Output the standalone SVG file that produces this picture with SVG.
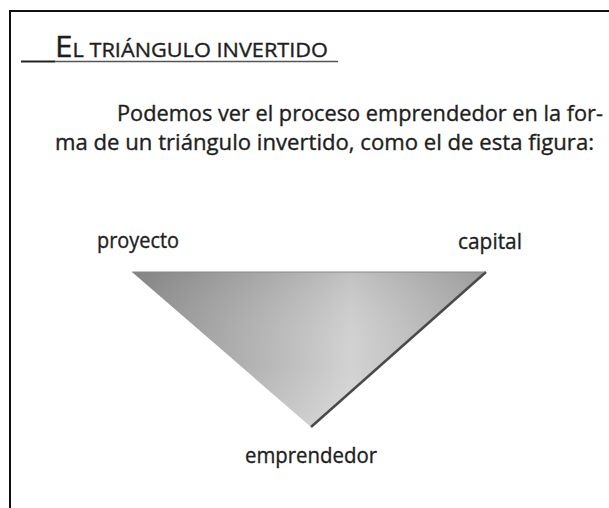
<svg xmlns="http://www.w3.org/2000/svg" width="609" height="508" viewBox="0 0 609 508">
<defs>
<style>
.t{font-family:"Open Sans","Noto Sans",sans-serif;fill:#1e1e1e;stroke:#1e1e1e;stroke-width:0.35}
.lbl{font-size:21px}
.par{font-size:21.5px}
.ttl{font-size:20px}
</style>
<linearGradient id="g" x1="0" y1="0" x2="1" y2="0">
<stop offset="0" stop-color="#8e8e8e"/>
<stop offset="0.5" stop-color="#c4c4c4"/>
<stop offset="0.62" stop-color="#d2d2d2"/>
<stop offset="1" stop-color="#a9a9a9"/>
</linearGradient>
<linearGradient id="gv" x1="0" y1="0" x2="0" y2="1">
<stop offset="0" stop-color="#000" stop-opacity="0.08"/>
<stop offset="0.6" stop-color="#fff" stop-opacity="0"/>
<stop offset="1" stop-color="#fff" stop-opacity="0.2"/>
</linearGradient>
</defs>
<rect width="609" height="508" fill="#fff"/>
<g id="frame" fill="none" stroke="#111" stroke-width="2">
<path d="M10 508 V11 H609"/>
</g>
<g id="title">
<text class="t" x="55" y="57" textLength="273" lengthAdjust="spacingAndGlyphs"><tspan font-size="29">E</tspan><tspan class="ttl">L TRIÁNGULO INVERTIDO</tspan></text>
<line x1="21" y1="61.5" x2="55" y2="61.5" stroke="#222" stroke-width="2"/>
<line x1="55" y1="61.5" x2="338" y2="61.5" stroke="#555" stroke-width="1.5"/>
</g>
<g id="paragraph">
<text class="t par" x="117" y="121" textLength="486" lengthAdjust="spacingAndGlyphs">Podemos ver el proceso emprendedor en la for-</text>
<text class="t par" x="55" y="150" textLength="539" lengthAdjust="spacingAndGlyphs">ma de un triángulo invertido, como el de esta figura:</text>
</g>
<g id="triangle">
<polygon points="132,272 485,272 311,427" fill="url(#g)"/>
<polygon points="132,272 485,272 311,427" fill="url(#gv)"/>
<line x1="486" y1="272" x2="311" y2="427" stroke="#4a4a4a" stroke-width="2.5"/>
<line x1="132" y1="272" x2="485" y2="272" stroke="#888" stroke-width="1"/>
</g>
<g id="node-proyecto"><text class="t lbl" x="97" y="248" textLength="82" lengthAdjust="spacingAndGlyphs">proyecto</text></g>
<g id="node-capital"><text class="t lbl" x="458" y="249" textLength="64" lengthAdjust="spacingAndGlyphs">capital</text></g>
<g id="node-emprendedor"><text class="t lbl" x="245" y="463" textLength="132" lengthAdjust="spacingAndGlyphs">emprendedor</text></g>
<g id="connectors"/>
</svg>
